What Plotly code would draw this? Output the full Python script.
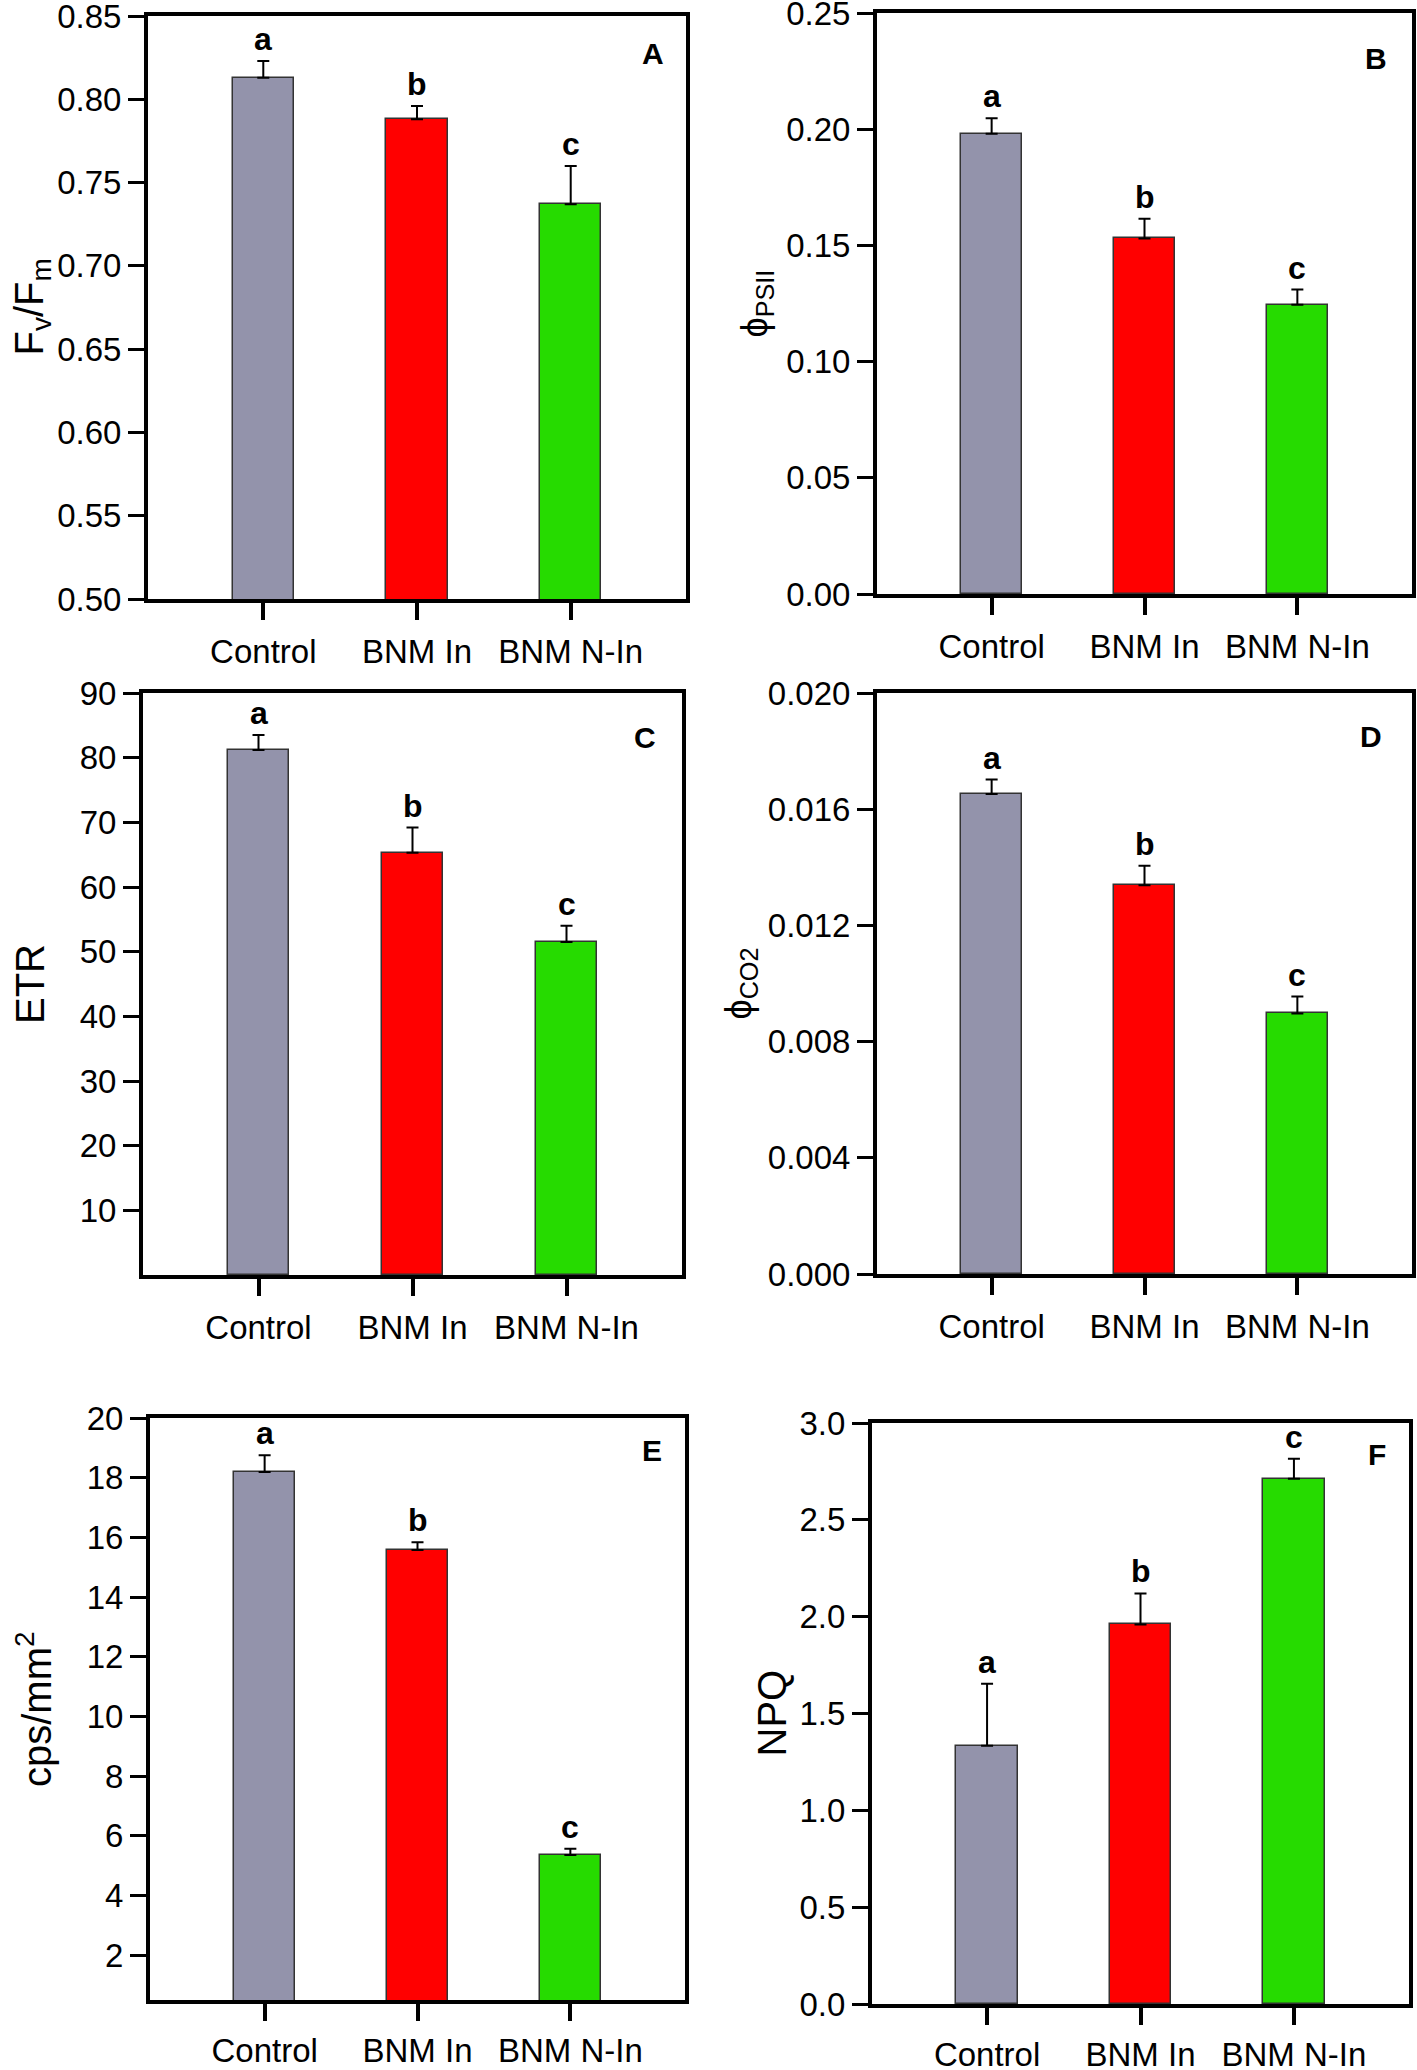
import plotly.graph_objects as go

categories = ["Control", "BNM In", "BNM N-In"]
bar_colors = ["#9393ab", "#ff0000", "#26db00"]

# panel A: Fv/Fm
fvfm = [0.813, 0.788, 0.737]
fvfm_err = [0.010, 0.008, 0.023]
# panel B: phi PSII
phi_psii = [0.198, 0.153, 0.1245]
phi_psii_err = [0.0067, 0.0085, 0.0065]
# panel C: ETR
etr = [81.2, 65.3, 51.5]
etr_err = [2.3, 3.9, 2.5]
# panel D: phi CO2
phi_co2 = [0.01652, 0.01338, 0.00897]
phi_co2_err = [0.00050, 0.00067, 0.00058]
# panel E: stomatal density
cps = [18.19, 15.58, 5.36]
cps_err = [0.56, 0.26, 0.21]
# panel F: NPQ
npq = [1.333, 1.960, 2.712]
npq_err = [0.32, 0.16, 0.104]

letters = ["a", "b", "c"]

FONT = "Liberation Sans, Arial, sans-serif"
W, H = 1417, 2070

def px(x):
    return min(max(x / W, 0), 1)

def py(y):
    return min(max(1 - y / H, 0), 1)

# (left, right, top, bottom) in pixels
boxes = [
    (148, 686, 16, 599),
    (877, 1412, 13, 594),
    (143, 682, 693, 1275),
    (877, 1412, 693, 1274),
    (150, 685, 1418, 2000),
    (872, 1409, 1423, 2004),
]

panels = [
    dict(vals=fvfm, err=fvfm_err, rng=[0.5, 0.85], tickvals=[0.5, 0.55, 0.6, 0.65, 0.7, 0.75, 0.8, 0.85],
         fmt=".2f", title="F<sub>v</sub>/F<sub>m</sub>", tsize=40, tx=31, tag="A", tagpos=(653, 53)),
    dict(vals=phi_psii, err=phi_psii_err, rng=[0, 0.25], tickvals=[0, 0.05, 0.1, 0.15, 0.2, 0.25],
         fmt=".2f", title="ϕ<sub>PSII</sub>", tsize=36, tx=756, tag="B", tagpos=(1376, 59)),
    dict(vals=etr, err=etr_err, rng=[0, 90], tickvals=[10, 20, 30, 40, 50, 60, 70, 80, 90],
         fmt="d", title="ETR", tsize=40, tx=30, tag="C", tagpos=(645, 738)),
    dict(vals=phi_co2, err=phi_co2_err, rng=[0, 0.02], tickvals=[0, 0.004, 0.008, 0.012, 0.016, 0.02],
         fmt=".3f", title="ϕ<sub>CO2</sub>", tsize=36, tx=740, tag="D", tagpos=(1371, 736)),
    dict(vals=cps, err=cps_err, rng=[0.5, 20], tickvals=[2, 4, 6, 8, 10, 12, 14, 16, 18, 20],
         fmt="d", title="cps/mm<sup>2</sup>", tsize=40, tx=34, tag="E", tagpos=(652, 1450)),
    dict(vals=npq, err=npq_err, rng=[0, 3], tickvals=[0, 0.5, 1, 1.5, 2, 2.5, 3],
         fmt=".1f", title="NPQ", tsize=40, tx=771, tag="F", tagpos=(1377, 1454)),
]

fig = go.Figure()
annotations = []

for i, (p, box) in enumerate(zip(panels, boxes)):
    n = "" if i == 0 else str(i + 1)
    l, r, t, b = box
    xdom = [px(l), px(r)]
    ydom = [py(b), py(t)]

    fig.add_trace(go.Bar(
        x=categories, y=p["vals"], width=0.4,
        marker=dict(color=bar_colors, line=dict(color="#333333", width=1.5)),
        error_y=dict(type="data", symmetric=False, array=p["err"], arrayminus=[0, 0, 0],
                     color="black", thickness=2, width=6),
        xaxis="x" + n, yaxis="y" + n, showlegend=False,
    ))

    fig.update_layout(**{
        "xaxis" + n: dict(
            domain=xdom, anchor="y" + n, range=[-0.75, 2.75], automargin=False,
            showline=True, mirror=True, linecolor="black", linewidth=4,
            ticks="outside", ticklen=17, tickwidth=3.5, tickcolor="black",
            ticklabelstandoff=1 if i >= 4 else 3, ticklabeloverflow="allow",
            showgrid=False, zeroline=False,
            tickfont=dict(family=FONT, size=33, color="black"),
        ),
        "yaxis" + n: dict(
            domain=ydom, anchor="x" + n, range=p["rng"], automargin=False,
            tickvals=p["tickvals"], tickformat=p["fmt"], ticklabeloverflow="allow",
            showline=True, mirror=True, linecolor="black", linewidth=4,
            ticks="outside", ticklen=16, tickwidth=2.5, tickcolor="black",
            showgrid=False, zeroline=False,
            tickfont=dict(family=FONT, size=33, color="black"),
        ),
    })

    # significance letters above the error bars
    for c, v, e, s in zip(categories, p["vals"], p["err"], letters):
        annotations.append(dict(
            x=c, y=v + e, xref="x" + n, yref="y" + n, text="<b>%s</b>" % s,
            showarrow=False, xanchor="center", yanchor="bottom", yshift=2,
            font=dict(family=FONT, size=32, color="black"),
        ))

    # panel tag
    annotations.append(dict(
        x=px(p["tagpos"][0]), y=py(p["tagpos"][1]), xref="paper", yref="paper",
        text="<b>%s</b>" % p["tag"], showarrow=False, xanchor="center", yanchor="middle",
        font=dict(family=FONT, size=30, color="black"),
    ))

    # y axis title
    annotations.append(dict(
        x=px(p["tx"]), y=(ydom[0] + ydom[1]) / 2, xref="paper", yref="paper",
        text=p["title"], textangle=-90, showarrow=False, xanchor="center", yanchor="middle",
        font=dict(family=FONT, size=p["tsize"], color="black"),
    ))

fig.update_layout(
    width=W, height=H,
    margin=dict(l=0, r=0, t=0, b=0),
    paper_bgcolor="white", plot_bgcolor="white",
    annotations=annotations,
    bargap=0,
)

# drop the default 8px page margin so the figure fills the window exactly
fig.write_html("out.html", config={"displayModeBar": False},
               post_script="document.body.style.margin='0';")
